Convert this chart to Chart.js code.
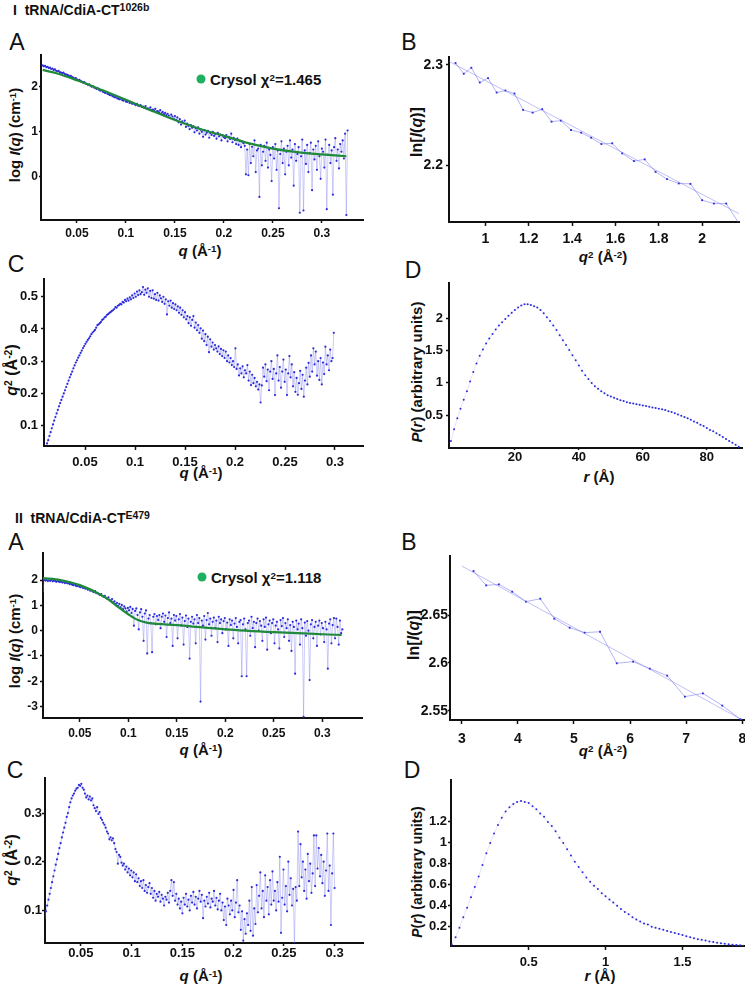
<!DOCTYPE html>
<html>
<head>
<meta charset="utf-8">
<script src="https://cdn.jsdelivr.net/npm/chart.js@4.4.0/dist/chart.umd.min.js"></script>
<style>
  body { margin: 0; width: 745px; height: 986px; overflow: hidden; background: #fff; position: relative;
         font-family: "Liberation Sans", Arial, sans-serif; color: #111; }
  canvas { position: absolute; }
  .t { position: absolute; white-space: nowrap; font-weight: bold; line-height: 1; }
  .c { transform: translate(-50%, -50%); }
  .yt { transform: translate(-50%, -50%) rotate(-90deg); }
  .lm { transform: translateY(-50%); }
  .let { position: absolute; font-size: 23px; line-height: 1; transform: translate(-50%, -50%); }
  sup { font-size: 0.65em; vertical-align: 0; position: relative; top: -0.45em; }
  .hd sup { font-size: 0.75em; top: -0.4em; }
  .dot { position: absolute; width: 9px; height: 9px; border-radius: 50%; background: #1db060; transform: translate(-50%, -50%); }
</style>
</head>
<body>
<div class="t lm hd" style="left:13px;top:10px;font-size:14px">I&nbsp;&nbsp;tRNA/CdiA-CT<sup>1026b</sup></div>
<div class="t lm hd" style="left:15px;top:518px;font-size:14px">II&nbsp;&nbsp;tRNA/CdiA-CT<sup>E479</sup></div>

<div class="let" style="left:17px;top:42px">A</div>
<div class="let" style="left:409px;top:42px">B</div>
<div class="let" style="left:16px;top:264px">C</div>
<div class="let" style="left:413px;top:270px">D</div>
<div class="let" style="left:16px;top:542px">A</div>
<div class="let" style="left:409px;top:542px">B</div>
<div class="let" style="left:15px;top:770px">C</div>
<div class="let" style="left:412px;top:770px">D</div>

<div class="t yt" style="left:14px;top:135px;font-size:15px">log <i>I</i>(<i>q</i>) (cm<sup>-1</sup>)</div>
<div class="t c" style="left:200px;top:250px;font-size:15px"><i>q</i> (Å<sup>-1</sup>)</div>
<div class="t yt" style="left:417px;top:132px;font-size:16px">ln[<i>I</i>(<i>q</i>)]</div>
<div class="t c" style="left:603px;top:256px;font-size:15px"><i>q</i><sup>2</sup> (Å<sup>-2</sup>)</div>
<div class="t yt" style="left:12px;top:370px;font-size:16px"><i>q</i><sup>2</sup> (Å<sup>-2</sup>)</div>
<div class="t c" style="left:201px;top:472px;font-size:15px"><i>q</i> (Å<sup>-1</sup>)</div>
<div class="t yt" style="left:416px;top:372px;font-size:15px"><i>P</i>(<i>r</i>) (arbitrary units)</div>
<div class="t c" style="left:599px;top:476px;font-size:15px"><i>r</i> (Å)</div>

<div class="t yt" style="left:14px;top:641px;font-size:15px">log <i>I</i>(<i>q</i>) (cm<sup>-1</sup>)</div>
<div class="t c" style="left:201px;top:749px;font-size:15px"><i>q</i> (Å<sup>-1</sup>)</div>
<div class="t yt" style="left:414px;top:635px;font-size:16px">ln[<i>I</i>(<i>q</i>)]</div>
<div class="t c" style="left:603px;top:750px;font-size:15px"><i>q</i><sup>2</sup> (Å<sup>-2</sup>)</div>
<div class="t yt" style="left:12px;top:860px;font-size:16px"><i>q</i><sup>2</sup> (Å<sup>-2</sup>)</div>
<div class="t c" style="left:201px;top:975px;font-size:15px"><i>q</i> (Å<sup>-1</sup>)</div>
<div class="t yt" style="left:417px;top:872px;font-size:14px"><i>P</i>(<i>r</i>) (arbitrary units)</div>
<div class="t c" style="left:600px;top:975px;font-size:15px"><i>r</i> (Å)</div>

<div class="dot" style="left:201px;top:79px"></div>
<div class="t lm" style="left:210px;top:79px;font-size:15px">Crysol χ<sup>2</sup>=1.465</div>
<div class="dot" style="left:202px;top:577px"></div>
<div class="t lm" style="left:211px;top:577px;font-size:15px">Crysol χ<sup>2</sup>=1.118</div>

<script>
// ---------- I  tRNA/CdiA-CT1026b ----------
// A: log I(q), q sampled from 0.015 in steps of 0.00125
const qStartIA = 0.015, qStepIA = 0.00125;
const logIA = [
  2.46, 2.44, 2.45, 2.42, 2.43, 2.40, 2.41, 2.38, 2.39, 2.36,
  2.37, 2.34, 2.33, 2.34, 2.31, 2.30, 2.29, 2.30, 2.27, 2.26,
  2.25, 2.24, 2.22, 2.23, 2.20, 2.19, 2.17, 2.18, 2.15, 2.13,
  2.14, 2.11, 2.10, 2.08, 2.09, 2.06, 2.05, 2.03, 2.04, 2.01,
  1.99, 2.00, 1.97, 1.96, 1.94, 1.95, 1.92, 1.90, 1.91, 1.88,
  1.87, 1.85, 1.86, 1.83, 1.82, 1.80, 1.81, 1.78, 1.77, 1.75,
  1.76, 1.73, 1.72, 1.71, 1.73, 1.69, 1.68, 1.70, 1.66, 1.65,
  1.67, 1.63, 1.64, 1.61, 1.62, 1.60, 1.58, 1.61, 1.57, 1.56,
  1.58, 1.54, 1.55, 1.52, 1.56, 1.50, 1.51, 1.49, 1.53, 1.47,
  1.48, 1.46, 1.50, 1.44, 1.45, 1.42, 1.47, 1.40, 1.43, 1.38,
  1.41, 1.36, 1.39, 1.35, 1.30, 1.37, 1.33, 1.28, 1.34, 1.25,
  1.31, 1.20, 1.27, 1.15, 1.22, 1.18, 1.24, 1.10, 1.17, 1.12,
  1.05, 1.14, 1.08, 1.11, 0.98, 1.07, 1.02, 1.09, 0.95, 1.04,
  0.99, 0.88, 1.03, 0.93, 0.97, 1.01, 0.86, 0.96, 0.92, 0.99,
  0.90, 0.94, 0.84, 0.97, 0.89, 0.93, 0.80, 0.91, 0.87, 0.85,
  0.92, 0.78, 0.88, 0.83, 0.95, 0.76, 0.86, 0.81, 0.72, 0.84,
  0.70, 0.79, 0.65, 0.77, 0.74, 0.68, 0.05, 0.60, 0.03, 0.72,
  0.30, 0.66, 0.45, 0.80, 0.10, 0.58, 0.62, -0.45, 0.70, 0.25,
  0.55, 0.68, 0.35, 0.75, 0.20, 0.60, 0.48, -0.10, 0.65, 0.40,
  0.72, 0.15, 0.58, -0.70, 0.50, 0.78, 0.30, 0.62, 0.05, 0.55,
  0.68, 0.25, 0.80, 0.42, 0.60, -0.20, 0.72, 0.35, 0.50, 0.65,
  -0.80, 0.45, 0.82, -0.75, 0.58, 0.28, 0.70, 0.10, 0.52, 0.75,
  -0.30, 0.60, 0.38, 0.68, 0.15, 0.78, 0.45, -0.05, 0.62, 0.55,
  0.20, 0.82, -0.72, 0.48, 0.70, 0.30, 0.58, -0.40, 0.65, 0.85,
  0.35, 0.60, 0.18, 0.72, 0.55, 0.80, 0.40, 0.95, -0.85, 1.02
];
const qFitIA = [0.015, 0.03, 0.05, 0.075, 0.1, 0.125, 0.15, 0.175, 0.2, 0.225, 0.25, 0.275, 0.3, 0.325];
const logFitIA = [2.36, 2.28, 2.13, 1.92, 1.70, 1.47, 1.25, 1.06, 0.90, 0.74, 0.62, 0.54, 0.49, 0.45];

// B: Guinier region
const q2IB = [0.862, 0.900, 0.935, 0.974, 1.012, 1.052, 1.092, 1.134, 1.174, 1.218, 1.262, 1.305, 1.348, 1.395, 1.442,
              1.488, 1.535, 1.585, 1.631, 1.685, 1.735, 1.785, 1.838, 1.892, 1.946, 2.000, 2.054, 2.111, 2.169];
const lnIB = [2.3017, 2.2910, 2.2970, 2.2823, 2.2867, 2.2723, 2.2743, 2.2713, 2.2550, 2.2523, 2.2557, 2.2433, 2.2443, 2.2350, 2.2323,
              2.2273, 2.2210, 2.2217, 2.2117, 2.2040, 2.2057, 2.1933, 2.1860, 2.1817, 2.1813, 2.1650, 2.1617, 2.1617, 2.1423];
const q2FitIB = [0.832, 2.169];
const lnFitIB = [2.3033, 2.1517];

// C: Kratky, q from 0.012 in steps of 0.0012
const qStartIC = 0.012, qStepIC = 0.0012;
const kratkyIC = [
  0.045, 0.055, 0.068, 0.080, 0.092, 0.104, 0.116, 0.127, 0.138, 0.149,
  0.160, 0.170, 0.180, 0.190, 0.200, 0.210, 0.220, 0.230, 0.240, 0.250,
  0.259, 0.268, 0.278, 0.287, 0.296, 0.303, 0.311, 0.318, 0.326, 0.333,
  0.341, 0.347, 0.354, 0.360, 0.366, 0.371, 0.377, 0.384, 0.389, 0.393,
  0.397, 0.404, 0.412, 0.414, 0.418, 0.422, 0.428, 0.431, 0.436, 0.438,
  0.444, 0.446, 0.450, 0.452, 0.456, 0.458, 0.462, 0.468, 0.466, 0.472,
  0.474, 0.478, 0.476, 0.484, 0.482, 0.490, 0.486, 0.494, 0.488, 0.498,
  0.492, 0.504, 0.496, 0.510, 0.500, 0.516, 0.505, 0.520, 0.508, 0.514,
  0.530, 0.506, 0.522, 0.512, 0.526, 0.500, 0.518, 0.496, 0.520, 0.494,
  0.508, 0.490, 0.512, 0.488, 0.504, 0.495, 0.484, 0.500, 0.478, 0.492,
  0.445, 0.486, 0.472, 0.488, 0.466, 0.480, 0.462, 0.476, 0.458, 0.470,
  0.450, 0.466, 0.444, 0.458, 0.436, 0.452, 0.430, 0.440, 0.418, 0.436,
  0.410, 0.428, 0.440, 0.404, 0.420, 0.396, 0.412, 0.388, 0.402, 0.370,
  0.395, 0.362, 0.384, 0.350, 0.376, 0.328, 0.368, 0.345, 0.358, 0.336,
  0.350, 0.340, 0.330, 0.346, 0.322, 0.338, 0.316, 0.334, 0.310, 0.330,
  0.300, 0.318, 0.296, 0.310, 0.288, 0.300, 0.282, 0.340, 0.276, 0.290,
  0.256, 0.278, 0.262, 0.284, 0.250, 0.272, 0.262, 0.288, 0.240, 0.268,
  0.226, 0.258, 0.232, 0.248, 0.222, 0.236, 0.212, 0.228, 0.172, 0.225,
  0.280, 0.252, 0.290, 0.238, 0.274, 0.210, 0.268, 0.300, 0.245, 0.276,
  0.195, 0.262, 0.318, 0.240, 0.282, 0.218, 0.268, 0.305, 0.236, 0.274,
  0.195, 0.262, 0.316, 0.250, 0.290, 0.222, 0.266, 0.205, 0.248, 0.196,
  0.232, 0.270, 0.214, 0.258, 0.190, 0.240, 0.280, 0.228, 0.295, 0.252,
  0.318, 0.268, 0.340, 0.290, 0.330, 0.255, 0.300, 0.242, 0.310, 0.228,
  0.296, 0.260, 0.345, 0.290, 0.318, 0.272, 0.336, 0.300, 0.310, 0.388
];

// D: P(r), r from 0 in steps of 1 Å
const rStartID = 0, rStepID = 1;
const prID = [
  0.10, 0.28, 0.45, 0.60, 0.74, 0.87, 1.02, 1.17, 1.30, 1.42,
  1.52, 1.61, 1.69, 1.76, 1.83, 1.89, 1.94, 1.99, 2.04, 2.09,
  2.13, 2.17, 2.20, 2.22, 2.22, 2.21, 2.19, 2.17, 2.13, 2.08,
  2.02, 1.96, 1.89, 1.82, 1.74, 1.66, 1.59, 1.51, 1.43, 1.35,
  1.27, 1.19, 1.12, 1.06, 1.00, 0.95, 0.91, 0.87, 0.84, 0.81,
  0.79, 0.77, 0.75, 0.73, 0.72, 0.70, 0.69, 0.68, 0.67, 0.66,
  0.65, 0.64, 0.63, 0.62, 0.61, 0.60, 0.59, 0.58, 0.56, 0.55,
  0.53, 0.51, 0.49, 0.47, 0.45, 0.43, 0.40, 0.38, 0.35, 0.33,
  0.30, 0.27, 0.25, 0.22, 0.19, 0.16, 0.13, 0.10, 0.07, 0.04,
  0.01
];

// ---------- II  tRNA/CdiA-CTE479 ----------
const qStartIIA = 0.012, qStepIIA = 0.00125;
const logIIA = [
  1.55, 2.02, 1.98, 2.00, 1.96, 1.99, 1.97, 2.01, 1.95, 1.98,
  1.96, 1.93, 1.97, 1.94, 1.92, 1.95, 1.90, 1.93, 1.88, 1.91,
  1.87, 1.89, 1.84, 1.86, 1.82, 1.80, 1.83, 1.78, 1.76, 1.79,
  1.74, 1.72, 1.75, 1.69, 1.70, 1.66, 1.67, 1.62, 1.64, 1.58,
  1.60, 1.55, 1.52, 1.56, 1.48, 1.50, 1.44, 1.41, 1.45, 1.37,
  1.34, 1.38, 1.30, 1.26, 1.32, 1.22, 1.18, 1.25, 1.12, 1.16,
  1.05, 1.10, 0.98, 1.06, 0.92, 1.02, 0.85, 0.96, 0.88, 0.75,
  0.90, 0.80, 0.94, 0.70, 0.86, 0.20, 0.78, 0.88, 0.62, 0.05,
  0.72, 0.85, 0.55, -0.40, 0.68, 0.80, -0.90, 0.48, 0.62, 0.30,
  -0.85, 0.55, 0.66, 0.25, 0.58, 0.42, 0.62, 0.10, 0.55, 0.68,
  0.35, 0.60, -0.25, 0.50, 0.72, 0.30, 0.48, -0.60, 0.62, 0.40,
  0.58, -0.30, 0.45, 0.66, 0.20, 0.52, -0.55, 0.38, 0.60, 0.15,
  0.48, -1.10, 0.35, 0.55, 0.28, 0.45, -0.50, 0.62, 0.30, 0.50,
  -2.80, 0.40, 0.20, 0.58, -0.35, 0.42, 0.70, 0.25, 0.48, -0.20,
  0.35, 0.52, 0.10, 0.40, -0.45, 0.55, 0.30, 0.45, -0.10, 0.38,
  0.50, 0.05, 0.32, -0.60, 0.45, 0.22, 0.40, -0.30, 0.28, 0.50,
  0.15, -0.50, 0.35, 0.42, -1.80, 0.25, 0.48, 0.05, -1.80, 0.30,
  0.40, -0.20, 0.55, 0.10, 0.35, -0.65, 0.30, 0.48, 0.00, 0.38,
  0.20, -0.40, 0.45, 0.15, 0.52, -0.75, 0.25, 0.40, -0.10, 0.30,
  0.45, -0.50, 0.20, 0.35, 0.05, -0.70, 0.42, 0.18, 0.50, -0.25,
  0.30, 0.10, 0.45, -0.40, 0.22, -0.80, 0.35, 0.15, -1.70, 0.40,
  0.05, 0.28, -0.55, 0.45, 0.10, -3.40, 0.32, -0.20, 0.38, 0.00,
  -1.95, 0.25, 0.42, -0.30, 0.15, 0.35, -0.60, 0.20, 0.40, -0.15,
  0.30, 0.10, -0.45, 0.35, 0.05, -1.50, 0.28, 0.45, -0.50, 0.22,
  0.50, -0.30, 0.48, 0.15, -0.55, 0.40, -0.10, 0.05
];
const qFitIIA = [0.012, 0.03, 0.05, 0.07, 0.08, 0.09, 0.1, 0.11, 0.12, 0.13, 0.15, 0.2, 0.25, 0.3, 0.32];
const logFitIIA = [2.08, 2.00, 1.80, 1.45, 1.22, 0.92, 0.65, 0.42, 0.31, 0.27, 0.22, 0.05, -0.06, -0.14, -0.17];

const q2IIB = [3.208, 3.435, 3.661, 3.899, 4.143, 4.399, 4.649, 4.923, 5.190, 5.464, 5.762, 6.054, 6.351, 6.661, 6.976, 7.298, 7.643, 7.970];
const lnIIB = [2.6958, 2.6809, 2.6819, 2.6743, 2.6639, 2.6670, 2.6462, 2.6368, 2.6316, 2.6326, 2.5997, 2.6014, 2.5941, 2.5868, 2.5649, 2.5684, 2.5556, 2.5413];
const q2FitIIB = [3.0, 8.0];
const lnFitIIB = [2.701, 2.5406];

const qStartIIC = 0.0144, qStepIIC = 0.0012;
const kratkyIIC = [
  0.085, 0.098, 0.110, 0.122, 0.134, 0.146, 0.158, 0.170, 0.182, 0.194,
  0.205, 0.216, 0.228, 0.238, 0.250, 0.260, 0.270, 0.280, 0.292, 0.300,
  0.312, 0.322, 0.330, 0.336, 0.340, 0.346, 0.350, 0.352, 0.358, 0.356,
  0.360, 0.352, 0.348, 0.340, 0.332, 0.336, 0.328, 0.334, 0.326, 0.330,
  0.316, 0.310, 0.304, 0.312, 0.298, 0.302, 0.290, 0.286, 0.280, 0.276,
  0.270, 0.262, 0.258, 0.246, 0.250, 0.244, 0.248, 0.238, 0.226, 0.220,
  0.196, 0.214, 0.210, 0.198, 0.192, 0.196, 0.184, 0.190, 0.178, 0.186,
  0.172, 0.182, 0.168, 0.178, 0.160, 0.174, 0.158, 0.166, 0.150, 0.160,
  0.146, 0.162, 0.140, 0.152, 0.136, 0.148, 0.156, 0.134, 0.146, 0.126,
  0.140, 0.120, 0.134, 0.128, 0.138, 0.118, 0.132, 0.124, 0.110, 0.128,
  0.122, 0.136, 0.116, 0.140, 0.162, 0.130, 0.158, 0.120, 0.134, 0.112,
  0.124, 0.104, 0.118, 0.094, 0.126, 0.112, 0.134, 0.108, 0.122, 0.100,
  0.130, 0.116, 0.138, 0.112, 0.128, 0.104, 0.124, 0.140, 0.118, 0.132,
  0.084, 0.120, 0.108, 0.128, 0.114, 0.136, 0.106, 0.124, 0.118, 0.140,
  0.110, 0.126, 0.102, 0.120, 0.134, 0.100, 0.116, 0.080, 0.108, 0.070,
  0.124, 0.110, 0.092, 0.120, 0.100, 0.142, 0.086, 0.116, 0.162, 0.096,
  0.110, 0.060, 0.098, 0.038, 0.082, 0.052, 0.094, 0.070, 0.120, 0.058,
  0.148, 0.048, 0.104, 0.072, 0.152, 0.096, 0.130, 0.178, 0.104, 0.140,
  0.086, 0.172, 0.120, 0.148, 0.092, 0.162, 0.112, 0.180, 0.120, 0.140,
  0.100, 0.158, 0.118, 0.210, 0.054, 0.126, 0.184, 0.112, 0.150, 0.098,
  0.200, 0.132, 0.166, 0.110, 0.144, 0.032, 0.148, 0.120, 0.262, 0.150,
  0.236, 0.168, 0.200, 0.140, 0.184, 0.124, 0.216, 0.160, 0.196, 0.136,
  0.176, 0.254, 0.150, 0.254, 0.186, 0.228, 0.170, 0.214, 0.156, 0.200,
  0.130, 0.182, 0.258, 0.140, 0.192, 0.070, 0.176, 0.258, 0.146
];

const rStartIID = 0, rStepIID = 0.025;
const prIID = [
  0.03, 0.10, 0.19, 0.29, 0.38, 0.48, 0.58, 0.68, 0.79, 0.90,
  1.00, 1.09, 1.17, 1.24, 1.30, 1.34, 1.37, 1.39, 1.40, 1.39,
  1.38, 1.35, 1.32, 1.28, 1.25, 1.20, 1.16, 1.11, 1.05, 1.00,
  0.94, 0.88, 0.82, 0.77, 0.72, 0.67, 0.63, 0.59, 0.56, 0.52,
  0.49, 0.46, 0.43, 0.40, 0.37, 0.34, 0.32, 0.29, 0.27, 0.25,
  0.23, 0.22, 0.20, 0.19, 0.18, 0.17, 0.16, 0.15, 0.14, 0.13,
  0.12, 0.11, 0.10, 0.09, 0.08, 0.075, 0.068, 0.06, 0.054, 0.048,
  0.043, 0.038, 0.033, 0.029, 0.025, 0.022, 0.019
];

// tick values
const ticksQ = [0.05, 0.1, 0.15, 0.2, 0.25, 0.3];
const ticksIAy = [0, 1, 2];
const ticksIBx = [1, 1.2, 1.4, 1.6, 1.8, 2];
const ticksIBy = [2.2, 2.3];
const ticksICy = [0.1, 0.2, 0.3, 0.4, 0.5];
const ticksIDx = [20, 40, 60, 80];
const ticksIDy = [0.5, 1, 1.5, 2];
const ticksIIAy = [-3, -2, -1, 0, 1, 2];
const ticksIIBx = [3, 4, 5, 6, 7, 8];
const ticksIIBy = [2.55, 2.6, 2.65];
const ticksIICy = [0.1, 0.2, 0.3];
const ticksIIDx = [0.5, 1, 1.5];
const ticksIIDy = [0.2, 0.4, 0.6, 0.8, 1, 1.2];

// ---------- helpers ----------
const FONT = '"Liberation Sans", Arial, sans-serif';
const DOT = '#2b2bdc';

function onGrid(start, step, values) {
    return values.map((v, i) => ({ x: +(start + step * i).toFixed(5), y: v }));
}
function pairs(xs, ys) {
    return xs.map((x, i) => ({ x: x, y: ys[i] }));
}

function noisy(data) {
    return { data, borderColor: 'rgba(130,130,238,0.5)', borderWidth: 0.8, pointRadius: 1.1,
             pointBackgroundColor: DOT, pointBorderWidth: 0, tension: 0, fill: false };
}
function fitLine(data) {
    return { data, borderColor: '#1f8a3a', borderWidth: 2.2, pointRadius: 0, cubicInterpolationMode: 'monotone', fill: false };
}
function guinier(data) {
    return { data, borderColor: 'rgba(120,120,235,0.7)', borderWidth: 0.8, pointRadius: 1.3, pointStyle: 'rect',
             pointBackgroundColor: DOT, pointBorderWidth: 0, tension: 0, fill: false };
}
function guinierFit(data) {
    return { data, borderColor: 'rgba(120,120,235,0.6)', borderWidth: 0.8, pointRadius: 0, tension: 0, fill: false };
}
function dotted(data) {
    return { data, borderColor: 'rgba(140,140,240,0.4)', borderWidth: 0.6, pointRadius: 1,
             pointBackgroundColor: DOT, pointBorderWidth: 0, tension: 0, fill: false };
}

// box = chart area [left, top, right, bottom] in page pixels
function makePanel(p) {
    const [l, t, r, b] = p.box;
    const padL = 60, padB = 34, padT = 12, padR = 14;
    const c = document.createElement('canvas');
    c.width = r - l + padL + padR;
    c.height = b - t + padT + padB;
    c.style.left = (l - padL) + 'px';
    c.style.top = (t - padT) + 'px';
    document.body.appendChild(c);

    const axis = (ticks, gap, range, fit) => ({
        type: 'linear',
        min: range[0],
        max: range[1],
        afterBuildTicks: s => { s.ticks = ticks.map(v => ({ value: v })); },
        afterFit: fit,
        grid: { display: true, drawOnChartArea: false, drawTicks: true, tickLength: gap[0], tickColor: '#111', tickWidth: 1.5 },
        border: { display: true, color: '#111', width: 2 },
        ticks: { padding: gap[1], color: '#111', autoSkip: false, maxRotation: 0,
                 font: { family: FONT, size: p.fs, weight: 'bold' }, callback: v => String(v) }
    });

    new Chart(c, {
        type: 'line',
        data: { datasets: p.sets },
        options: {
            responsive: false,
            animation: false,
            events: [],
            layout: { padding: { top: padT, right: padR, left: 0, bottom: 0 } },
            plugins: { legend: { display: false }, tooltip: { enabled: false } },
            scales: {
                x: axis(p.xt, p.xGap, p.x, s => { s.height = padB; }),
                y: axis(p.yt, p.yGap, p.y, s => { s.width = padL; })
            }
        }
    });
}

const panels = [
    { box: [41, 55, 363, 220], x: [0.0133, 0.342], y: [-0.96, 2.69], xt: ticksQ, yt: ticksIAy, fs: 12,
      xGap: [3, 3], yGap: [2, 1],
      sets: [fitLine(pairs(qFitIA, logFitIA)), noisy(onGrid(qStartIA, qStepIA, logIA))] },
    { box: [449, 57, 739, 222], x: [0.832, 2.17], y: [2.1433, 2.3077], xt: ticksIBx, yt: ticksIBy, fs: 14,
      xGap: [4, 5], yGap: [3, 3],
      sets: [guinierFit(pairs(q2FitIB, lnFitIB)), guinier(pairs(q2IB, lnIB))] },
    { box: [44, 279, 363, 446], x: [0.009, 0.328], y: [0.037, 0.555], xt: ticksQ, yt: ticksICy, fs: 13,
      xGap: [4, 5], yGap: [3, 3],
      sets: [noisy(onGrid(qStartIC, qStepIC, kratkyIC))] },
    { box: [449, 283, 742, 448], x: [-0.6, 91], y: [-0.01, 2.55], xt: ticksIDx, yt: ticksIDy, fs: 13,
      xGap: [2, 0], yGap: [3, 3],
      sets: [dotted(onGrid(rStartID, rStepID, prID))] },
    { box: [43, 553, 362, 718], x: [0.012, 0.341], y: [-3.45, 3.07], xt: ticksQ, yt: ticksIIAy, fs: 12,
      xGap: [4, 4], yGap: [3, 2],
      sets: [fitLine(pairs(qFitIIA, logFitIIA)), noisy(onGrid(qStartIIA, qStepIIA, logIIA))] },
    { box: [450, 556, 744, 720], x: [2.79, 8.03], y: [2.5406, 2.7115], xt: ticksIIBx, yt: ticksIIBy, fs: 14,
      xGap: [4, 7], yGap: [2, 0],
      sets: [guinierFit(pairs(q2FitIIB, lnFitIIB)), guinier(pairs(q2IIB, lnIIB))] },
    { box: [45, 778, 363, 943], x: [0.0146, 0.328], y: [0.033, 0.372], xt: ticksQ, yt: ticksIICy, fs: 13,
      xGap: [3, 0], yGap: [3, 0],
      sets: [noisy(onGrid(qStartIIC, qStepIIC, kratkyIIC))] },
    { box: [451, 780, 744, 946], x: [-0.005, 1.9], y: [0.016, 1.6], xt: ticksIIDx, yt: ticksIIDy, fs: 13,
      xGap: [4, 5], yGap: [3, 1],
      sets: [dotted(onGrid(rStartIID, rStepIID, prIID))] }
];

panels.forEach(makePanel);
</script>
</body>
</html>
